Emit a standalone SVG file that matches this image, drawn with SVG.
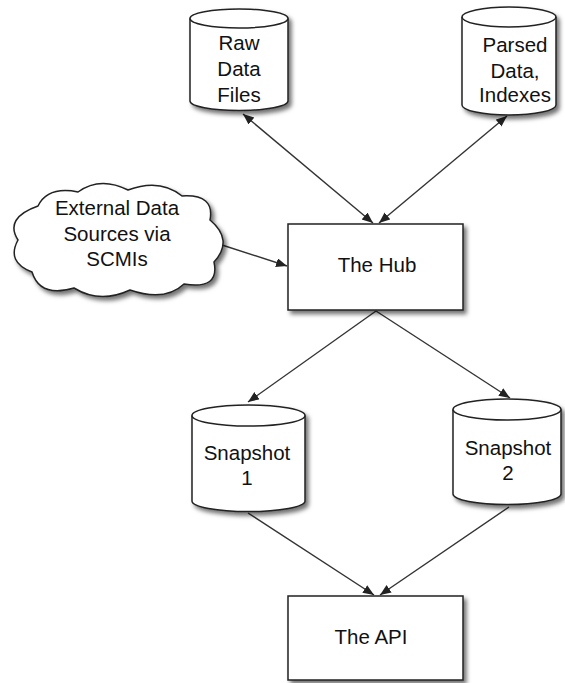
<svg xmlns="http://www.w3.org/2000/svg" width="565" height="683" viewBox="0 0 565 683">
<style>
.shape{fill:#fff;stroke:#222;stroke-width:1.5;filter:url(#sh)}
.lbl{font-family:"Liberation Sans",Arial,sans-serif;font-size:20.5px;fill:#111;text-anchor:middle}
.edge{stroke:#333;stroke-width:1.4;fill:none;marker-end:url(#ah)}
.bi{marker-start:url(#ah)}
</style>
<defs>
<filter id="sh" x="-20%" y="-20%" width="140%" height="140%">
<feDropShadow dx="3" dy="3.5" stdDeviation="2.2" flood-color="#000" flood-opacity="0.55"/>
</filter>
<marker id="ah" markerUnits="userSpaceOnUse" markerWidth="12" markerHeight="10" refX="11" refY="4.5" orient="auto-start-reverse">
<path d="M0,0 L11,4.5 L0,9 Z" fill="#222"/>
</marker>
</defs>
<rect width="565" height="683" fill="#fff"/>
<g id="connectors">
<line class="edge bi" x1="243" y1="114" x2="373" y2="223"/>
<line class="edge bi" x1="507" y1="116" x2="379" y2="223"/>
<line class="edge" x1="222" y1="245" x2="287" y2="266"/>
<line class="edge" x1="376" y1="311" x2="248" y2="402"/>
<line class="edge" x1="376" y1="311" x2="510" y2="398"/>
<line class="edge" x1="248" y1="513" x2="374" y2="595"/>
<line class="edge" x1="509" y1="507" x2="380" y2="595"/>
</g>
<g id="raw">
<path class="shape" d="M190,18.5 A49,9.5 0 0 1 288,18.5 V101 A49,9.5 0 0 1 190,101 Z"/>
<path d="M190,18.5 A49,9.5 0 0 0 288,18.5" fill="none" stroke="#222" stroke-width="1.5"/>
<text class="lbl" x="239" y="50">Raw</text>
<text class="lbl" x="239" y="76">Data</text>
<text class="lbl" x="239" y="102">Files</text>
</g>
<g id="parsed">
<path class="shape" d="M462,17 A47,10 0 0 1 556,17 V105 A47,10 0 0 1 462,105 Z"/>
<path d="M462,17 A47,10 0 0 0 556,17" fill="none" stroke="#222" stroke-width="1.5"/>
<text class="lbl" x="515" y="52">Parsed</text>
<text class="lbl" x="515" y="78">Data,</text>
<text class="lbl" x="515" y="102">Indexes</text>
</g>
<g id="cloud">
<path class="shape" d="M38,206 Q48,186 78,192 Q100,176 128,190 Q160,178 182,196 Q215,194 210,220 Q234,240 214,262 Q220,290 184,284 Q165,302 130,290 Q100,304 74,288 Q40,298 32,272 Q6,262 18,240 Q4,218 38,206 Z"/>
<text class="lbl" x="117" y="215">External Data</text>
<text class="lbl" x="117" y="241">Sources via</text>
<text class="lbl" x="117" y="266">SCMIs</text>
</g>
<g id="hub">
<rect class="shape" x="288" y="224" width="175" height="86"/>
<text class="lbl" x="377" y="272">The Hub</text>
</g>
<g id="snap1">
<path class="shape" d="M192,415.5 A56,10.5 0 0 1 305,415.5 V501 A56,10.5 0 0 1 192,501 Z"/>
<path d="M192,415.5 A56,10.5 0 0 0 305,415.5" fill="none" stroke="#222" stroke-width="1.5"/>
<text class="lbl" x="247" y="460">Snapshot</text>
<text class="lbl" x="247" y="485">1</text>
</g>
<g id="snap2">
<path class="shape" d="M453,409.5 A54,10.5 0 0 1 561,409.5 V494 A54,10.5 0 0 1 453,494 Z"/>
<path d="M453,409.5 A54,10.5 0 0 0 561,409.5" fill="none" stroke="#222" stroke-width="1.5"/>
<text class="lbl" x="508" y="455">Snapshot</text>
<text class="lbl" x="508" y="480">2</text>
</g>
<g id="api">
<rect class="shape" x="288" y="596" width="175" height="84"/>
<text class="lbl" x="371" y="644">The API</text>
</g>
</svg>
